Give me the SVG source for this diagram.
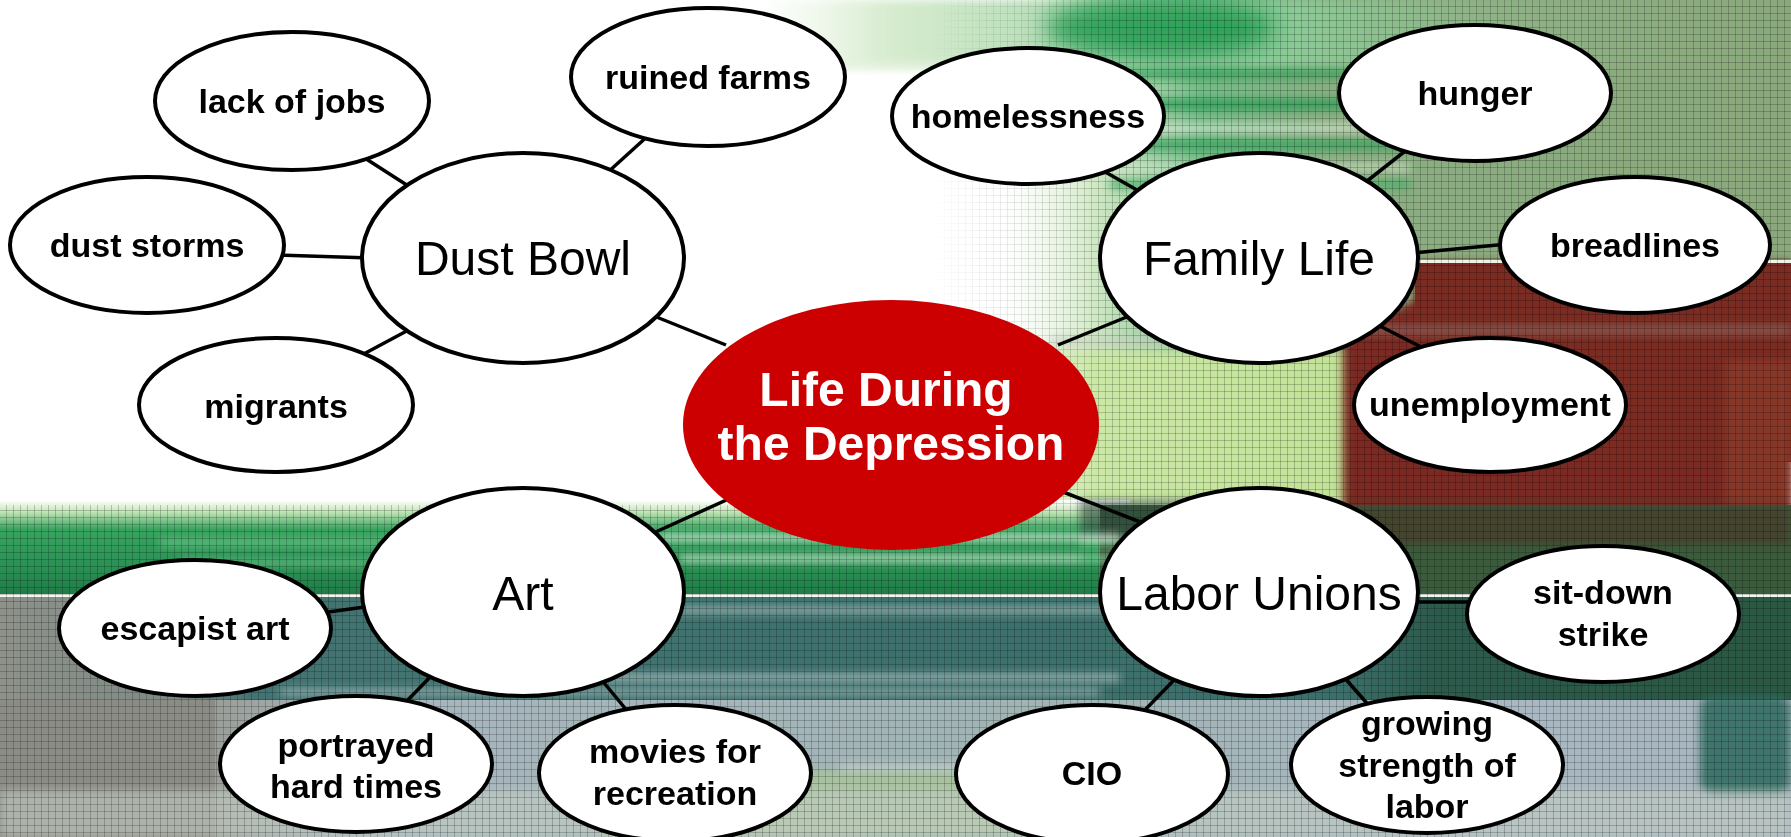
<svg xmlns="http://www.w3.org/2000/svg" width="1791" height="837" viewBox="0 0 1791 837">
<defs>
<style>
.node ellipse{fill:#fff;stroke:#000;stroke-width:4}
.sm{font-family:"Liberation Sans",Arial,sans-serif;font-weight:bold;font-size:34px;fill:#000;text-anchor:middle}
.md{font-family:"Liberation Sans",Arial,sans-serif;font-size:48px;fill:#000;text-anchor:middle}
.ctr{font-family:"Liberation Sans",Arial,sans-serif;font-weight:bold;font-size:48px;fill:#fff;text-anchor:middle}
#connectors line{stroke:#000;stroke-width:3.5}
</style>
<linearGradient id="gTop" x1="0" y1="0" x2="1791" y2="0" gradientUnits="userSpaceOnUse">
<stop offset="0" stop-color="#fff" stop-opacity="0"/>
<stop offset="0.55" stop-color="#fff" stop-opacity="0"/>
<stop offset="0.61" stop-color="#d2eac6"/>
<stop offset="0.67" stop-color="#74bc88"/>
<stop offset="0.75" stop-color="#8bae82"/>
<stop offset="1" stop-color="#8aa87c"/>
</linearGradient>
<linearGradient id="gStrip" x1="760" y1="0" x2="1791" y2="0" gradientUnits="userSpaceOnUse">
<stop offset="0" stop-color="#e4f2dc" stop-opacity="0"/>
<stop offset="0.12" stop-color="#d8ecd0"/>
<stop offset="0.5" stop-color="#8ccc98"/>
<stop offset="0.7" stop-color="#8fb286"/>
<stop offset="1" stop-color="#8aa87c"/>
</linearGradient>
<linearGradient id="gYG" x1="960" y1="0" x2="1343" y2="0" gradientUnits="userSpaceOnUse">
<stop offset="0" stop-color="#e2f2d0" stop-opacity="0"/>
<stop offset="0.35" stop-color="#cbe8a6"/>
<stop offset="1" stop-color="#c2e298"/>
</linearGradient>
<linearGradient id="gBand" x1="0" y1="0" x2="0" y2="1">
<stop offset="0" stop-color="#fff"/>
<stop offset="0.12" stop-color="#c4e6b8"/>
<stop offset="0.3" stop-color="#38a460"/>
<stop offset="0.7" stop-color="#2a9054"/>
<stop offset="1" stop-color="#1f7a46"/>
</linearGradient>
<linearGradient id="gTeal" x1="0" y1="0" x2="1" y2="0">
<stop offset="0" stop-color="#8d918a"/>
<stop offset="0.1" stop-color="#7f8a86"/>
<stop offset="0.14" stop-color="#437472"/>
<stop offset="0.75" stop-color="#3b6f6a"/>
<stop offset="0.8" stop-color="#2c5a4c"/>
<stop offset="1" stop-color="#2a5842"/>
</linearGradient>
<linearGradient id="gLow" x1="0" y1="0" x2="1" y2="0">
<stop offset="0" stop-color="#8c8c88"/>
<stop offset="0.12" stop-color="#9a9e98"/>
<stop offset="0.2" stop-color="#a7b6bd"/>
<stop offset="0.6" stop-color="#a0b4b4"/>
<stop offset="0.8" stop-color="#a9b8c2"/>
<stop offset="1" stop-color="#a8b6bf"/>
</linearGradient>
<linearGradient id="gMaskTop" x1="0" y1="0" x2="1791" y2="0" gradientUnits="userSpaceOnUse">
<stop offset="0.52" stop-color="#000"/>
<stop offset="0.63" stop-color="#fff"/>
</linearGradient>
<pattern id="grid" width="7" height="7" patternUnits="userSpaceOnUse">
<path d="M0 6.5H7M6.5 0V7" stroke="#000" stroke-width="1" fill="none" stroke-opacity="0.2"/>
</pattern>
<mask id="mTop" maskUnits="userSpaceOnUse" x="0" y="0" width="1791" height="510"><rect x="0" y="0" width="1791" height="510" fill="url(#gMaskTop)"/></mask>
<filter id="blur" x="-30%" y="-60%" width="160%" height="220%"><feGaussianBlur stdDeviation="12"/></filter>
<filter id="blur2" x="-20%" y="-50%" width="140%" height="200%"><feGaussianBlur stdDeviation="4"/></filter>
</defs>

<g id="background">
<rect x="0" y="0" width="1791" height="837" fill="#fff"/>
<rect x="0" y="0" width="1791" height="362" fill="url(#gTop)"/>
<rect x="760" y="0" width="1031" height="68" fill="url(#gStrip)" filter="url(#blur2)"/>
<ellipse cx="1160" cy="28" rx="115" ry="32" fill="#14964a" opacity="0.8" filter="url(#blur)"/>
<g filter="url(#blur2)" opacity="0.85">
<rect x="1090" y="70" width="320" height="8" fill="#2e9e56"/>
<rect x="840" y="62" width="260" height="6" fill="#e4f2dc"/>
<rect x="1080" y="100" width="330" height="9" fill="#1f9a50"/>
<rect x="1060" y="125" width="350" height="6" fill="#eaf6e4"/>
<rect x="1100" y="140" width="310" height="10" fill="#35a35e"/>
<rect x="1080" y="165" width="330" height="5" fill="#e2f4dc"/>
<rect x="1110" y="180" width="300" height="9" fill="#4eae6c"/>
</g>
<rect x="1050" y="335" width="320" height="14" fill="#c6d0c0" opacity="0.6" filter="url(#blur2)"/>
<rect x="960" y="350" width="400" height="155" fill="url(#gYG)" filter="url(#blur2)"/>
<polygon points="1415,262 1791,262 1791,532 1343,532 1343,335 1415,300" fill="#7a2b22" filter="url(#blur2)"/>
<rect x="1415" y="262" width="376" height="200" fill="#7a2b22"/>
<rect x="1725" y="360" width="66" height="150" fill="#8b3a2c" opacity="0.8" filter="url(#blur2)"/>
<rect x="1340" y="325" width="451" height="10" fill="#9a8a80" opacity="0.45" filter="url(#blur2)"/>
<rect x="1415" y="260" width="376" height="3" fill="#eef3e6"/>
<rect x="0" y="500" width="1130" height="97" fill="url(#gBand)"/>
<rect x="1100" y="505" width="691" height="92" fill="#3a5c3c"/>
<rect x="1343" y="505" width="448" height="40" fill="#4a3a2c" opacity="0.7" filter="url(#blur2)"/>
<rect x="1080" y="500" width="200" height="40" fill="#2d4a3c" opacity="0.6" filter="url(#blur2)"/>
<g filter="url(#blur2)">
<rect x="660" y="535" width="460" height="5" fill="#f4faf0"/>
<rect x="680" y="556" width="440" height="5" fill="#e8f8e4"/>
<rect x="160" y="540" width="250" height="5" fill="#8ee0a4" opacity="0.7"/>
<rect x="180" y="560" width="230" height="5" fill="#9ae6aa" opacity="0.6"/>
<rect x="1080" y="540" width="90" height="5" fill="#6ad890" opacity="0.8"/>
<rect x="1080" y="556" width="90" height="5" fill="#6ad890" opacity="0.6"/>
</g>
<rect x="0" y="597" width="1791" height="110" fill="url(#gTeal)"/>
<rect x="0" y="700" width="1791" height="137" fill="url(#gLow)"/>
<rect x="1700" y="695" width="91" height="100" rx="14" fill="#2e6a5e" opacity="0.85" filter="url(#blur2)"/>
<rect x="0" y="700" width="215" height="137" fill="#8c8c86"/>
<rect x="600" y="770" width="520" height="67" fill="#a8c2a0" filter="url(#blur2)"/>
<rect x="0" y="790" width="1791" height="47" fill="#c4cec4" opacity="0.6" filter="url(#blur2)"/>
<g filter="url(#blur2)" opacity="0.8">
<rect x="640" y="608" width="480" height="4" fill="#e8f0f0"/>
<rect x="600" y="675" width="520" height="5" fill="#e0e8ec"/>
<rect x="280" y="690" width="820" height="4" fill="#dce6ea"/>
<rect x="840" y="766" width="300" height="3" fill="#e8f0f0"/>
</g>
<rect x="0" y="594" width="1791" height="3" fill="#f2f6f0"/>
<rect x="0" y="505" width="1791" height="332" fill="url(#grid)"/>
<rect x="0" y="0" width="1791" height="505" fill="url(#grid)" mask="url(#mTop)"/>
</g>

<g id="connectors">
<line x1="360" y1="155" x2="413" y2="189"/>
<line x1="650" y1="134" x2="607" y2="173"/>
<line x1="277" y1="255" x2="371" y2="258"/>
<line x1="360" y1="356" x2="416" y2="326"/>
<line x1="649" y1="314" x2="726" y2="345"/>
<line x1="1100" y1="169" x2="1144" y2="194"/>
<line x1="1409" y1="148" x2="1362" y2="185"/>
<line x1="1413" y1="253" x2="1508" y2="244"/>
<line x1="1374" y1="323" x2="1425" y2="349"/>
<line x1="1058" y1="345" x2="1134" y2="314"/>
<line x1="649" y1="535" x2="733" y2="497"/>
<line x1="321" y1="613" x2="372" y2="606"/>
<line x1="403" y1="705" x2="435" y2="672"/>
<line x1="629" y1="713" x2="600" y2="678"/>
<line x1="1058" y1="490" x2="1148" y2="525"/>
<line x1="1410" y1="602" x2="1477" y2="602"/>
<line x1="1141" y1="714" x2="1177" y2="677"/>
<line x1="1372" y1="709" x2="1343" y2="676"/>
</g>

<g id="center">
<ellipse cx="891" cy="425" rx="208" ry="125" fill="#cc0000"/>
<text class="ctr" x="886" y="406">Life During</text>
<text class="ctr" x="891" y="460">the Depression</text>
</g>

<g id="dust-bowl" class="node"><ellipse cx="523" cy="258" rx="161" ry="105"/><text class="md" x="523" y="275">Dust Bowl</text></g>
<g id="family-life" class="node"><ellipse cx="1259" cy="258" rx="159" ry="105"/><text class="md" x="1259" y="275">Family Life</text></g>
<g id="art" class="node"><ellipse cx="523" cy="592" rx="161" ry="104"/><text class="md" x="523" y="610">Art</text></g>
<g id="labor-unions" class="node"><ellipse cx="1259" cy="592" rx="159" ry="104"/><text class="md" x="1259" y="610">Labor Unions</text></g>

<g id="lack-of-jobs" class="node"><ellipse cx="292" cy="101" rx="137" ry="69"/><text class="sm" x="292" y="113">lack of jobs</text></g>
<g id="ruined-farms" class="node"><ellipse cx="708" cy="77" rx="137" ry="69"/><text class="sm" x="708" y="89">ruined farms</text></g>
<g id="dust-storms" class="node"><ellipse cx="147" cy="245" rx="137" ry="68"/><text class="sm" x="147" y="257">dust storms</text></g>
<g id="migrants" class="node"><ellipse cx="276" cy="405" rx="137" ry="67"/><text class="sm" x="276" y="418">migrants</text></g>

<g id="homelessness" class="node"><ellipse cx="1028" cy="116" rx="136" ry="68"/><text class="sm" x="1028" y="128">homelessness</text></g>
<g id="hunger" class="node"><ellipse cx="1475" cy="93" rx="136" ry="68"/><text class="sm" x="1475" y="105">hunger</text></g>
<g id="breadlines" class="node"><ellipse cx="1635" cy="245" rx="135" ry="68"/><text class="sm" x="1635" y="257">breadlines</text></g>
<g id="unemployment" class="node"><ellipse cx="1490" cy="405" rx="136" ry="67"/><text class="sm" x="1490" y="416">unemployment</text></g>

<g id="escapist-art" class="node"><ellipse cx="195" cy="628" rx="136" ry="68"/><text class="sm" x="195" y="640">escapist art</text></g>
<g id="portrayed-hard-times" class="node"><ellipse cx="356" cy="764" rx="136" ry="68"/><text class="sm" x="356" y="757">portrayed</text><text class="sm" x="356" y="798">hard times</text></g>
<g id="movies-for-recreation" class="node"><ellipse cx="675" cy="773" rx="136" ry="68"/><text class="sm" x="675" y="763">movies for</text><text class="sm" x="675" y="805">recreation</text></g>

<g id="sit-down-strike" class="node"><ellipse cx="1603" cy="614" rx="136" ry="68"/><text class="sm" x="1603" y="604">sit-down</text><text class="sm" x="1603" y="646">strike</text></g>
<g id="cio" class="node"><ellipse cx="1092" cy="774" rx="136" ry="69"/><text class="sm" x="1092" y="785">CIO</text></g>
<g id="growing-strength" class="node"><ellipse cx="1427" cy="765" rx="136" ry="68"/><text class="sm" x="1427" y="735">growing</text><text class="sm" x="1427" y="777">strength of</text><text class="sm" x="1427" y="818">labor</text></g>
</svg>
